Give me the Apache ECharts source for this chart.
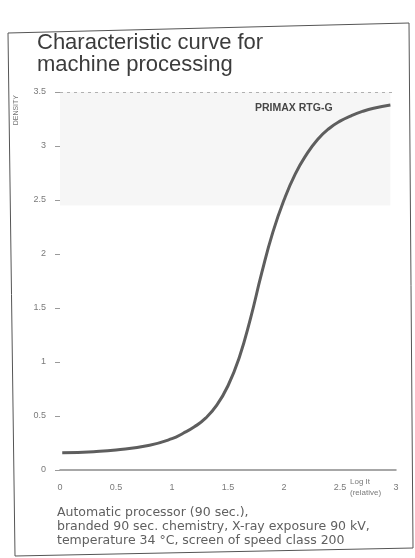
<!DOCTYPE html>
<html>
<head>
<meta charset="utf-8">
<script src="https://cdn.jsdelivr.net/npm/echarts@6/dist/echarts.min.js"></script>
<style>
  html, body { margin: 0; padding: 0; background: #fff; }
  #chart { width: 415px; height: 558px; }
</style>
</head>
<body>
<div id="chart"></div>
<script>
// log exposure (relative) vs. optical density
const logExposure = [0.02, 0.3, 0.5, 0.8, 1.0, 1.1, 1.2, 1.3, 1.4, 1.5, 1.6, 1.7, 1.8, 1.9, 2.0, 2.1, 2.2, 2.3, 2.4, 2.5, 2.6, 2.7, 2.8, 2.95];
const density = [0.16, 0.17, 0.185, 0.23, 0.29, 0.34, 0.40, 0.48, 0.60, 0.78, 1.04, 1.40, 1.82, 2.20, 2.50, 2.74, 2.92, 3.06, 3.16, 3.23, 3.28, 3.32, 3.35, 3.38];

const titleLines = ['Characteristic curve for', 'machine processing'];
const noteLines = [
    'Automatic processor (90 sec.),',
    'branded 90 sec. chemistry, X-ray exposure 90 kV,',
    'temperature 34 °C, screen of speed class 200'
];
const filmName = 'PRIMAX RTG-G';

function render_curve(dom_id) {
    let e = document.getElementById(dom_id);
    let chart = echarts.init(e, null, {renderer: 'canvas'});

    let points = logExposure.map(function (x, i) {
        return [x, density[i]];
    });

    const font = '"Liberation Sans", Arial, sans-serif';
    const wide = '"DejaVu Sans", sans-serif';

    chart.setOption({
        animation: false,
        textStyle: {fontFamily: font},
        title: {
            text: titleLines.join('\n'),
            left: 32, top: 27,
            textStyle: {fontSize: 22, lineHeight: 22, fontWeight: 'normal', color: '#3c3c3c', fontFamily: font}
        },
        grid: {left: 60, right: 19, top: 92, bottom: 88},
        xAxis: {
            type: 'value', min: 0, max: 3, interval: 0.5,
            axisLine: {show: true, lineStyle: {color: '#8a8a8a', width: 1.5}},
            axisTick: {show: false},
            splitLine: {show: false},
            axisLabel: {color: '#7a7a7a', fontSize: 9, margin: 13}
        },
        yAxis: {
            type: 'value', min: 0, max: 3.5, interval: 0.5,
            axisLine: {show: false},
            axisTick: {show: true, length: 5, lineStyle: {color: '#9a9a9a'}},
            splitLine: {show: false},
            axisLabel: {color: '#7a7a7a', fontSize: 9, margin: 14}
        },
        series: [{
            type: 'line',
            data: points,
            smooth: true,
            symbol: 'none',
            lineStyle: {color: '#5e5e5e', width: 3},
            markArea: {
                silent: true,
                itemStyle: {color: 'rgba(0,0,0,0.035)'},
                data: [[{xAxis: 0, yAxis: 2.45}, {xAxis: 2.95, yAxis: 3.5}]]
            },
            markLine: {
                silent: true, symbol: 'none', label: {show: false},
                lineStyle: {color: '#b0b0b0', type: [3, 4], width: 1},
                data: [{yAxis: 3.5}]
            }
        }],
        graphic: [
            {
                type: 'polygon', silent: true,
                shape: {points: [[8, 33], [409, 23], [413, 548], [15, 556]]},
                style: {fill: 'none', stroke: '#555', lineWidth: 1}
            },
            {
                type: 'text', left: 13, top: 95, rotation: Math.PI / 2,
                style: {text: 'DENSITY', fontSize: 7, fill: '#777', fontFamily: font}
            },
            {
                type: 'text', left: 255, top: 103,
                style: {text: filmName, fontSize: 10.5, fontWeight: 'bold', fill: '#4a4a4a', fontFamily: font}
            },
            {
                type: 'text', left: 350, top: 476,
                style: {text: 'Log It\n(relative)', fontSize: 8, lineHeight: 11, fill: '#7a7a7a', fontFamily: font}
            },
            {
                type: 'text', left: 57, top: 506,
                style: {text: noteLines.join('\n'), fontSize: 12.5, lineHeight: 14, fill: '#606060', fontFamily: wide}
            }
        ]
    });
}

render_curve('chart');
</script>
</body>
</html>
